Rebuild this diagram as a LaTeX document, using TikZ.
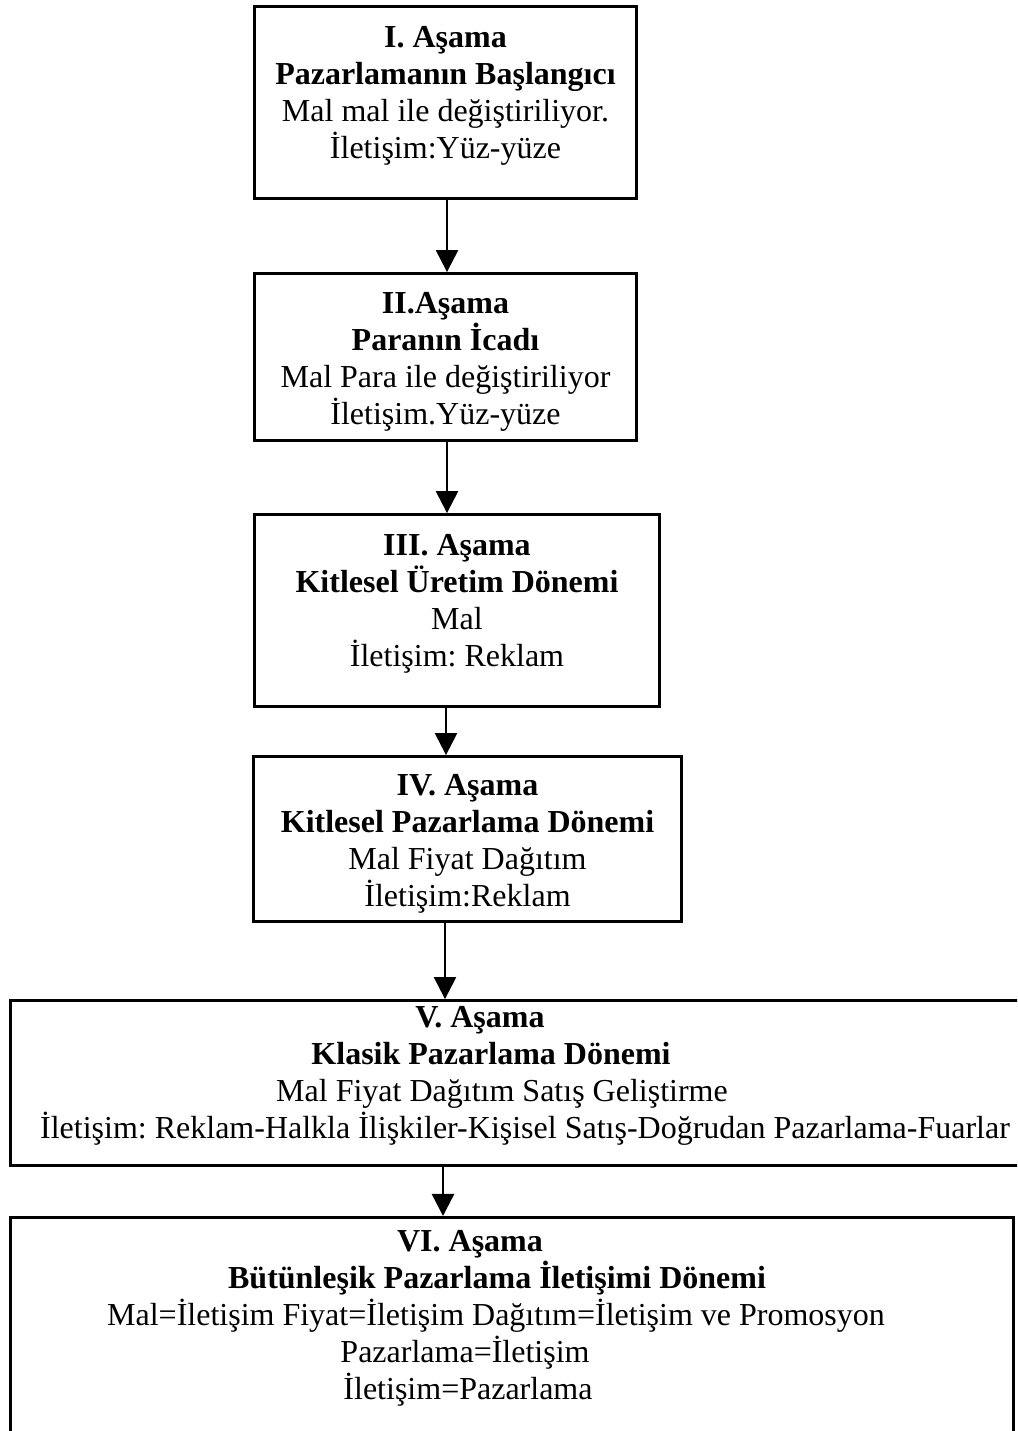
\documentclass[tikz,border=0pt]{standalone}
\usepackage{fontspec}
\setmainfont{Liberation Serif}
\usetikzlibrary{arrows.meta}

\tikzset{
  stage/.style={draw, line width=2.8pt, align=center, inner sep=0pt,
    font=\fontsize{32}{37}\selectfont\frenchspacing},
  flow/.style={-{Triangle[width=22pt,length=22pt]}, line width=2.4pt}
}

\begin{document}
\begin{tikzpicture}[x=1pt,y=1pt]
\useasboundingbox (0,0) rectangle (1017,1431);
\fill[white] (0,0) rectangle (1017,1431);
\clip (0,0) rectangle (1017,1431);

\node[stage, minimum width=382pt, minimum height=192pt] (s1) at (445.5,1328.5)
  {\textbf{I. Aşama}\\ \textbf{Pazarlamanın Başlangıcı}\\ Mal mal ile değiştiriliyor.\\ İletişim:Yüz-yüze\\[-16pt]\mbox{}};
\node[stage, minimum width=382pt, minimum height=167pt] (s2) at (445.5,1074)
  {\mbox{}\\[-6pt]\textbf{II.Aşama}\\ \textbf{Paranın İcadı}\\ Mal Para ile değiştiriliyor\\ İletişim.Yüz-yüze};
\node[stage, minimum width=405pt, minimum height=192pt] (s3) at (457,820.5)
  {\textbf{III. Aşama}\\ \textbf{Kitlesel Üretim Dönemi}\\ Mal\\ İletişim: Reklam\\[-16pt]\mbox{}};
\node[stage, minimum width=428pt, minimum height=165pt] (s4) at (467.5,592)
  {\mbox{}\\[-6pt]\textbf{IV. Aşama}\\ \textbf{Kitlesel Pazarlama Dönemi}\\ Mal Fiyat Dağıtım\\ İletişim:Reklam};
\node[stage, minimum width=1013pt, minimum height=165pt] (s5) at (517,348)
  {\hspace*{-74pt}\textbf{V. Aşama}\\
   \hspace*{-52pt}\textbf{Klasik Pazarlama Dönemi}\\
   \hspace*{-30pt}Mal Fiyat Dağıtım Satış Geliştirme\\
   \hspace*{16pt}İletişim: Reklam-Halkla İlişkiler-Kişisel Satış-Doğrudan Pazarlama-Fuarlar\\[-16pt]\mbox{}};
% alt kenar sayfanin disinda kaliyor
\node[stage, anchor=north, minimum width=1003pt, inner ysep=13pt] (s6) at (512,215)
  {\hspace*{-84pt}\textbf{VI. Aşama}\\
   \hspace*{-30pt}\textbf{Bütünleşik Pazarlama İletişimi Dönemi}\\
   \hspace*{-32pt}Mal=İletişim Fiyat=İletişim Dağıtım=İletişim ve Promosyon\\
   \hspace*{-94pt}Pazarlama=İletişim\\
   \hspace*{-88pt}İletişim=Pazarlama\\[80pt]\mbox{}};

\draw[flow] ([xshift=1.5pt]s1.south) -- ([xshift=1.5pt]s1.south |- s2.north);
\draw[flow] ([xshift=1.5pt]s2.south) -- ([xshift=1.5pt]s2.south |- s3.north);
\draw[flow] ([xshift=-11pt]s3.south) -- ([xshift=-11pt]s3.south |- s4.north);
\draw[flow] ([xshift=-22.5pt]s4.south) -- ([xshift=-22.5pt]s4.south |- s5.north);
\draw[flow] ([xshift=-74pt]s5.south) -- ([xshift=-74pt]s5.south |- s6.north);
\end{tikzpicture}
\end{document}
